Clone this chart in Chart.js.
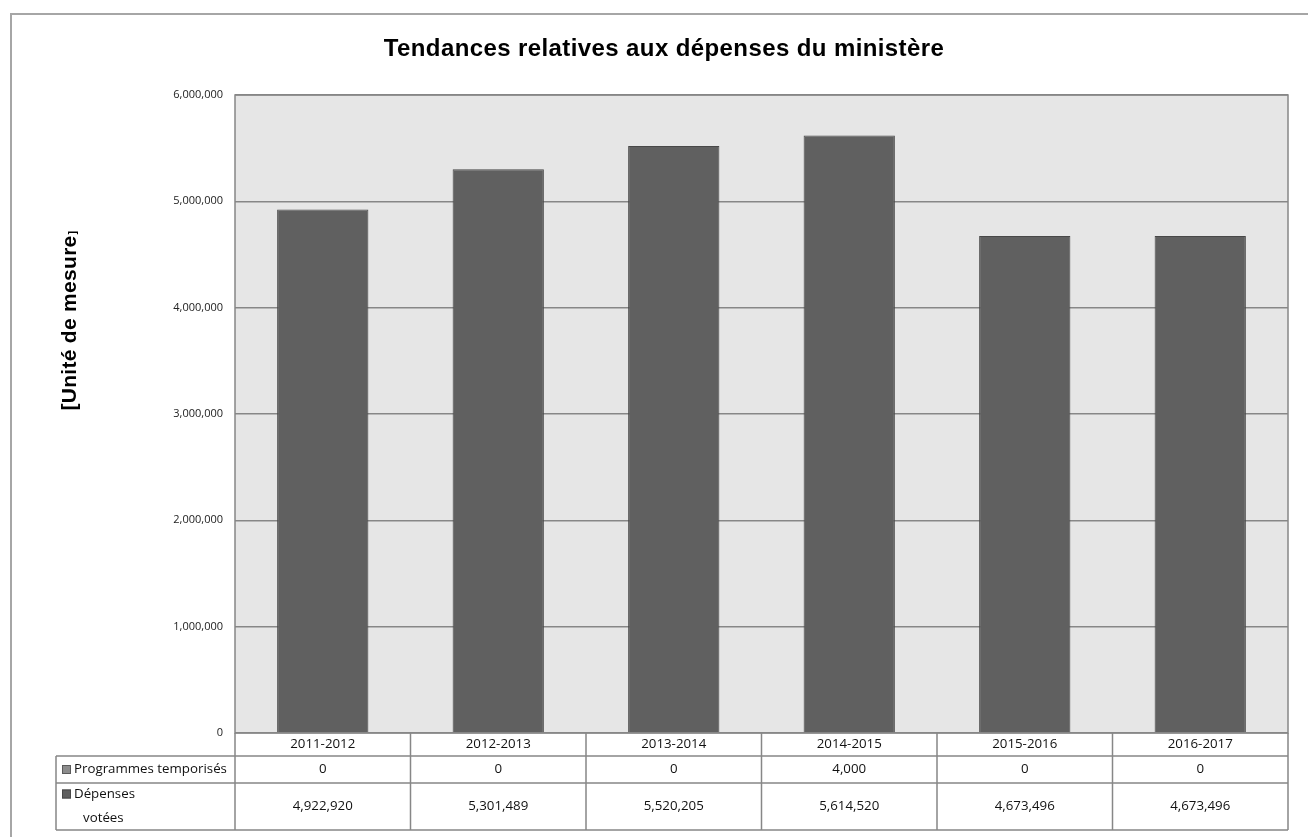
<!DOCTYPE html>
<html><head><meta charset="utf-8">
<script src="https://cdn.jsdelivr.net/npm/chart.js@4.4.1/dist/chart.umd.min.js"></script>
<style>html,body{margin:0;padding:0;background:#fff;overflow:hidden}#wrap{position:relative;width:1308px;height:837px}</style>
</head><body><div id="wrap"><canvas id="c" width="1308" height="837"></canvas></div>
<script>
const categories = ['2011-2012','2012-2013','2013-2014','2014-2015','2015-2016','2016-2017'];
const seriesNames = ['Programmes temporisés','Dépenses votées'];
const programmesTemporises = [0,0,0,4000,0,0];
const depensesVotees = [4922920,5301489,5520205,5614520,4673496,4673496];
const yTickValues = [0,1000000,2000000,3000000,4000000,5000000,6000000];
const chartTitle = 'Tendances relatives aux dépenses du ministère';
const yAxisTitle = '[Unité de mesure';
const yAxisTitleEnd = ']';

const fmt = v => v.toLocaleString('en-US');
const tableFont = '13.3px "Open Sans", sans-serif';

const framePlugin = {
  id: 'frame',
  beforeDraw(chart) {
    const {ctx, chartArea: a} = chart;
    ctx.save();
    ctx.fillStyle = '#fff';
    ctx.fillRect(0, 0, chart.width, chart.height);
    // outer frame
    ctx.strokeStyle = '#a6a6a6';
    ctx.lineWidth = 2;
    ctx.beginPath();
    ctx.moveTo(11, chart.height + 2); ctx.lineTo(11, 14); ctx.lineTo(chart.width + 2, 14);
    ctx.stroke();
    // plot background
    ctx.fillStyle = '#e6e6e6';
    ctx.fillRect(a.left, a.top, a.right - a.left, a.bottom - a.top);
    // title
    ctx.fillStyle = '#000';
    ctx.font = 'bold 24px "Liberation Sans", Arial, sans-serif';
    ctx.letterSpacing = '0.4px';
    ctx.textAlign = 'center'; ctx.textBaseline = 'alphabetic';
    ctx.fillText(chartTitle, 664, 56);
    // y axis title
    ctx.translate(76, 323);
    ctx.rotate(-Math.PI / 2);
    ctx.font = 'bold 21px "Liberation Sans", Arial, sans-serif';
    ctx.letterSpacing = '0.3px';
    ctx.textAlign = 'center';
    const w = ctx.measureText(yAxisTitle).width;
    ctx.fillText(yAxisTitle, 0, 0);
    ctx.letterSpacing = '0px';
    ctx.font = 'bold 11px "Liberation Sans", Arial, sans-serif';
    ctx.textAlign = 'left';
    ctx.fillText(yAxisTitleEnd, w / 2 + 1, 0);
    ctx.restore();
  },
  afterDraw(chart) {
    const {ctx, chartArea: a, scales} = chart;
    const xs = scales.x;
    ctx.save();
    // plot border
    ctx.strokeStyle = '#878787';
    ctx.lineWidth = 1.5;
    ctx.strokeRect(a.left, a.top, a.right - a.left, a.bottom - a.top);
    // data table
    const half = (xs.getPixelForValue(1) - xs.getPixelForValue(0)) / 2;
    const r0 = a.bottom, r1 = a.bottom + 23, r2 = a.bottom + 50, r3 = a.bottom + 97;
    const tLeft = 56;
    ctx.beginPath();
    ctx.moveTo(a.left, r1); ctx.lineTo(a.right, r1);
    ctx.moveTo(tLeft, r1); ctx.lineTo(a.left, r1);
    ctx.moveTo(tLeft, r2); ctx.lineTo(a.right, r2);
    ctx.moveTo(tLeft, r3); ctx.lineTo(a.right, r3);
    ctx.moveTo(tLeft, r1); ctx.lineTo(tLeft, r3);
    ctx.moveTo(a.left, r0); ctx.lineTo(a.left, r3);
    categories.forEach((c, i) => {
      const xr = xs.getPixelForValue(i) + half;
      ctx.moveTo(xr, r0); ctx.lineTo(xr, r3);
    });
    ctx.stroke();
    ctx.fillStyle = '#111';
    ctx.font = tableFont;
    ctx.textAlign = 'center'; ctx.textBaseline = 'middle';
    categories.forEach((c, i) => {
      const xc = xs.getPixelForValue(i);
      ctx.fillText(c, xc, (r0 + r1) / 2);
      ctx.fillText(fmt(programmesTemporises[i]), xc, (r1 + r2) / 2);
      ctx.fillText(fmt(depensesVotees[i]), xc, (r2 + r3) / 2);
    });
    // row labels with legend keys
    const ds = chart.data.datasets;
    ctx.textAlign = 'left';
    const key = (y, color, border) => {
      ctx.fillStyle = color; ctx.fillRect(62, y - 4.5, 9, 9);
      ctx.strokeStyle = border; ctx.lineWidth = 1; ctx.strokeRect(62.5, y - 4, 8, 8);
    };
    key((r1 + r2) / 2, ds[0].backgroundColor, ds[0].borderColor);
    ctx.fillStyle = '#111';
    ctx.fillText(seriesNames[0], 74, (r1 + r2) / 2);
    key(r2 + 11, ds[1].backgroundColor, ds[1].borderColor);
    ctx.fillStyle = '#111';
    const parts = seriesNames[1].split(' ');
    ctx.fillText(parts[0], 74, r2 + 11);
    ctx.fillText(parts.slice(1).join(' '), 83, r2 + 35);
    ctx.restore();
  }
};

new Chart(document.getElementById('c'), {
  type: 'bar',
  data: {
    labels: categories,
    datasets: [
      { label: seriesNames[0], data: programmesTemporises, backgroundColor: '#8c8c8c', borderColor: '#5a5a5a', borderWidth: 1, categoryPercentage: 1, barPercentage: 0.52 },
      { label: seriesNames[1], data: depensesVotees, backgroundColor: '#606060', borderColor: '#484848', borderWidth: 1, categoryPercentage: 1, barPercentage: 0.52 }
    ]
  },
  options: {
    responsive: false, animation: false, devicePixelRatio: 1,
    layout: { padding: { left: 0, right: 20, top: 95, bottom: 0 } },
    plugins: { legend: { display: false }, title: { display: false }, tooltip: { enabled: false } },
    scales: {
      x: {
        stacked: true,
        grid: { display: false },
        border: { display: false },
        ticks: { display: false },
        afterFit(s) { s.height = 104; }
      },
      y: {
        stacked: true,
        min: yTickValues[0], max: yTickValues[yTickValues.length - 1],
        afterBuildTicks(s) { s.ticks = yTickValues.map(v => ({ value: v })); },
        grid: { color: '#878787', lineWidth: 1.5, drawTicks: false },
        border: { display: false },
        ticks: { padding: 12, color: '#222', font: { family: '"Open Sans", sans-serif', size: 11 }, callback: v => fmt(v) },
        afterFit(s) { s.width = 235; }
      }
    }
  },
  plugins: [framePlugin]
});
</script>
</body></html>
